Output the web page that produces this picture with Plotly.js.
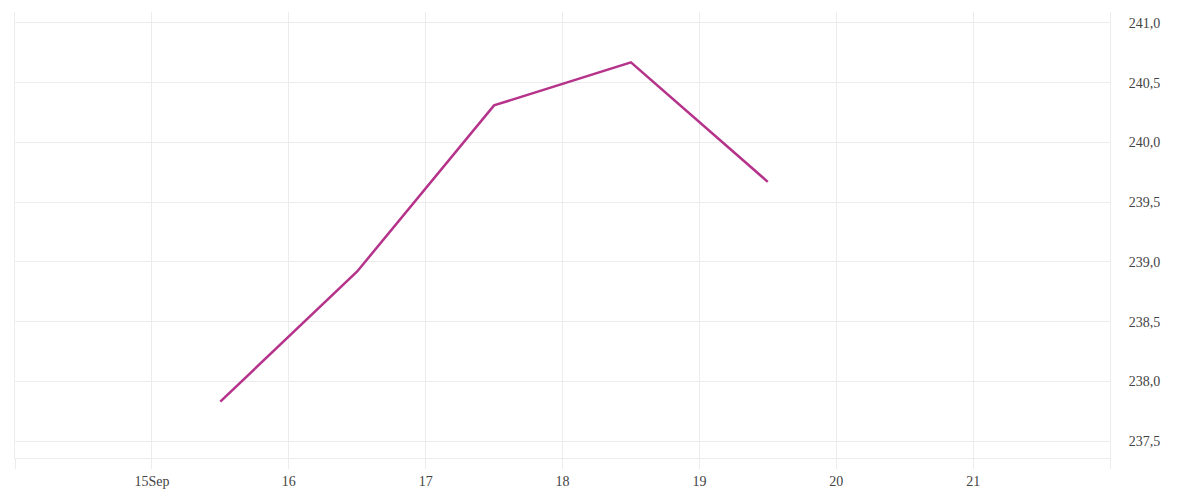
<!DOCTYPE html>
<html>
<head>
<meta charset="utf-8">
<script src="https://cdn.plot.ly/plotly-3.0.1.min.js"></script>
<style>html,body{margin:0;padding:0;background:#fff}#chart{width:1200px;height:500px}</style>
</head>
<body>
<div id="chart"></div>
<script>
var dates = ["2023-09-15 12:00", "2023-09-16 12:00", "2023-09-17 12:00", "2023-09-18 12:00", "2023-09-19 12:00"];
var values = [237.83, 238.92, 240.31, 240.67, 239.67];
var tickDates = ["2023-09-14", "2023-09-15", "2023-09-16", "2023-09-17", "2023-09-18", "2023-09-19", "2023-09-20", "2023-09-21", "2023-09-22"];
var tickLabels = ["", "15Sep", "16", "17", "18", "19", "20", "21", ""];
var yTicks = [237.5, 238, 238.5, 239, 239.5, 240, 240.5, 241];

var trace = {
  x: dates, y: values, type: "scatter", mode: "lines",
  line: {color: "#b5338a", width: 2.5}, hoverinfo: "x+y"
};
var layout = {
  width: 1200, height: 500,
  margin: {l: 15, r: 90, t: 12, b: 42},
  paper_bgcolor: "#fff", plot_bgcolor: "#fff",
  separators: ",.",
  showlegend: false,
  font: {family: "Liberation Serif", size: 14, color: "#444"},
  xaxis: {
    type: "date",
    range: ["2023-09-14", "2023-09-22"],
    tickvals: tickDates, ticktext: tickLabels,
    showgrid: true, gridcolor: "#ececec",
    ticks: "outside", ticklen: 10, tickcolor: "#ececec",
    showline: true, linecolor: "#ececec", linewidth: 1,
    zeroline: false, tickfont: {size: 14, color: "#444"}
  },
  yaxis: {
    side: "right",
    automargin: false,
    range: [237.358, 241.092],
    tickvals: yTicks,
    tickformat: ".1f",
    showgrid: true, gridcolor: "#ececec",
    zeroline: false, showline: true, mirror: true, linecolor: "#ececec",
    ticks: "",
    ticklabelstandoff: 15,
    tickfont: {size: 14, color: "#444"}
  }
};
Plotly.newPlot("chart", [trace], layout, {displayModeBar: false, staticPlot: true});
</script>
</body>
</html>
